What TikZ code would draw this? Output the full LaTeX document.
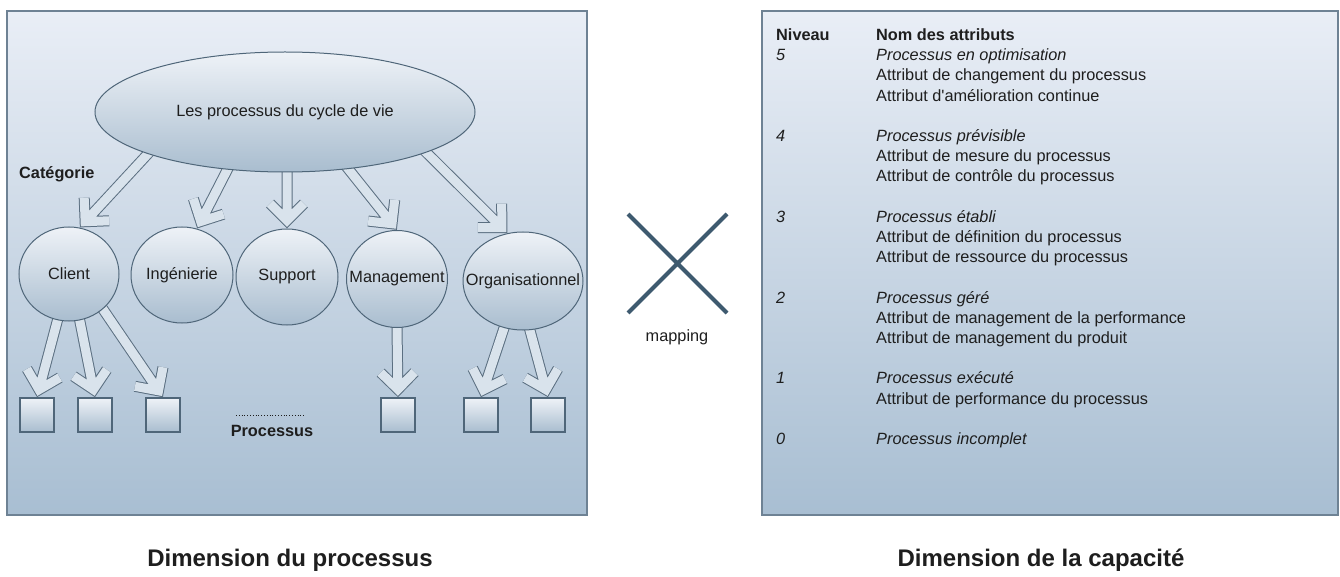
\documentclass[tikz,border=0pt]{standalone}
\usepackage{fontspec}
\setmainfont{Liberation Sans}
\usetikzlibrary{shapes.geometric,calc}
\pgfdeclarelayer{bg}
\pgfdeclarelayer{mid}
\pgfsetlayers{bg,mid,main}

\definecolor{paneltop}{HTML}{E9EEF6}
\definecolor{panelbot}{HTML}{A8BED2}
\definecolor{panelline}{HTML}{6E8294}
\definecolor{shapetop}{HTML}{EEF2F7}
\definecolor{shapebot}{HTML}{A9BDCF}
\definecolor{shapeline}{HTML}{4F6679}
\definecolor{arrowfill}{HTML}{D9E3EC}
\definecolor{arrowline}{HTML}{5B6F81}
\definecolor{crossc}{HTML}{3E5A6F}
\definecolor{txt}{HTML}{1E1E1E}

% outlined block arrow with an open chevron head
\newcommand\hollowarrow[2]{%
  \path (#1) coordinate (ha) (#2) coordinate (hb);
  \path ($(hb)!8pt!(ha)$) coordinate (hc);
  \begin{pgfonlayer}{mid}
    \draw[harrow] ($(ha)!-6pt!(hb)$) -- (hc)
      ($(hc)!24pt!45:(ha)$) -- (hc) -- ($(hc)!24pt!-45:(ha)$);
  \end{pgfonlayer}}

% label of fixed-size bubbles: no width of its own
\newcommand\bubbletext[1]{\makebox[0pt]{#1}}

\begin{document}
\begin{tikzpicture}[x=1pt,y=-1pt,
  every node/.style={font=\fontsize{16.3}{19}\selectfont, text=txt},
  panel/.style={draw=panelline, line width=1.5pt, top color=paneltop,
    bottom color=panelbot, minimum width=580pt, minimum height=504pt,
    inner sep=0pt},
  bubble/.style={ellipse, draw=shapeline, line width=1pt, top color=shapetop,
    bottom color=shapebot, inner sep=0pt},
  procbox/.style={rectangle, draw=shapeline, line width=1.2pt, top color=shapetop,
    bottom color=shapebot, minimum size=34pt, inner sep=0pt},
  harrow/.style={draw=arrowline, line width=1pt, double=arrowfill,
    double distance=9pt, line join=miter},
  bold/.style={font=\bfseries\fontsize{16.3}{19}\selectfont},
  caption/.style={font=\bfseries\fontsize{24}{28}\selectfont},
  row/.style={anchor=base west, inner sep=0pt},
  lvl/.style={row, font=\itshape\fontsize{16.3}{19}\selectfont},
]
\useasboundingbox (0,0) rectangle (1340,577);

% two panels
\begin{pgfonlayer}{bg}
  \node[panel] (left) at (297,263) {};
  \node[panel, minimum width=576pt] (right) at (1050,263) {};
\end{pgfonlayer}

% process dimension
\node[bubble, minimum width=380pt, minimum height=120pt] (top) at (285,112)
  {Les processus du cycle de vie};
\node[bold, anchor=base west, inner sep=0pt] (cat) at (19,179) {Catégorie};

\node[bubble, minimum width=100pt, minimum height=94pt] (client) at (69,274) {\bubbletext{Client}};
\node[bubble, minimum width=102pt, minimum height=96pt] (inge) at (182,275) {\bubbletext{Ingénierie}};
\node[bubble, minimum width=102pt, minimum height=96pt] (supp) at (287,277) {\bubbletext{Support}};
\node[bubble, minimum width=101pt, minimum height=97pt] (mgmt) at (397,279) {\bubbletext{Management}};
\node[bubble, minimum width=120pt, minimum height=98pt] (orga) at (523,281) {\bubbletext{Organisationnel}};

\node[procbox] (b1) at (37,415) {};
\node[procbox] (b2) at (95,415) {};
\node[procbox] (b3) at (163,415) {};
\node[procbox] (b4) at (398,415) {};
\node[procbox] (b5) at (481,415) {};
\node[procbox] (b6) at (548,415) {};

\node[bold] (proc) at (272,431) {Processus};
\draw[txt, line width=0.8pt, dash pattern=on 0.8pt off 2pt] (236,415) -- (304,415);

\hollowarrow{top.197.7}{client.77}
\hollowarrow{top.225.5}{inge.72}
\hollowarrow{top.south -| supp.north}{supp.north}
\hollowarrow{top.318}{mgmt.north}
\hollowarrow{top.344.7}{orga.108}

\hollowarrow{client.256}{b1.north}
\hollowarrow{client.283}{b2.north}
\hollowarrow{client.314}{b3.north}
\hollowarrow{mgmt.south}{b4.north}
\hollowarrow{orga.248}{b5.north}
\hollowarrow{orga.278}{b6.north}

% mapping cross
\coordinate (xa) at (628,214);
\coordinate (xb) at (727,313);
\coordinate (xc) at (727,214);
\coordinate (xd) at (628,313);
\draw[crossc, line width=4pt] (xa) -- (xb) (xc) -- (xd);
\node (map) at (677,337) {mapping};

% capability dimension
\node[row, bold] (h1) at (776,40.5) {Niveau};
\node[row, bold] (h2) at (876,40.5) {Nom des attributs};

\node[lvl] (l5) at (776,60.7) {5};
\node[lvl] (p5) at (876,60.7) {Processus en optimisation};
\node[row] (a5a) at (876,80.9) {Attribut de changement du processus};
\node[row] (a5b) at (876,101.1) {Attribut d\textquotesingle amélioration continue};

\node[lvl] (l4) at (776,141.5) {4};
\node[lvl] (p4) at (876,141.5) {Processus prévisible};
\node[row] (a4a) at (876,161.7) {Attribut de mesure du processus};
\node[row] (a4b) at (876,181.9) {Attribut de contrôle du processus};

\node[lvl] (l3) at (776,222.3) {3};
\node[lvl] (p3) at (876,222.3) {Processus établi};
\node[row] (a3a) at (876,242.5) {Attribut de définition du processus};
\node[row] (a3b) at (876,262.7) {Attribut de ressource du processus};

\node[lvl] (l2) at (776,303.1) {2};
\node[lvl] (p2) at (876,303.1) {Processus géré};
\node[row] (a2a) at (876,323.3) {Attribut de management de la performance};
\node[row] (a2b) at (876,343.5) {Attribut de management du produit};

\node[lvl] (l1) at (776,383.9) {1};
\node[lvl] (p1) at (876,383.9) {Processus exécuté};
\node[row] (a1a) at (876,404.1) {Attribut de performance du processus};

\node[lvl] (l0) at (776,444.5) {0};
\node[lvl] (p0) at (876,444.5) {Processus incomplet};

% captions
\node[caption] (capl) at (290,560) {Dimension du processus};
\node[caption] (capr) at (1041,560) {Dimension de la capacité};
\end{tikzpicture}
\end{document}
